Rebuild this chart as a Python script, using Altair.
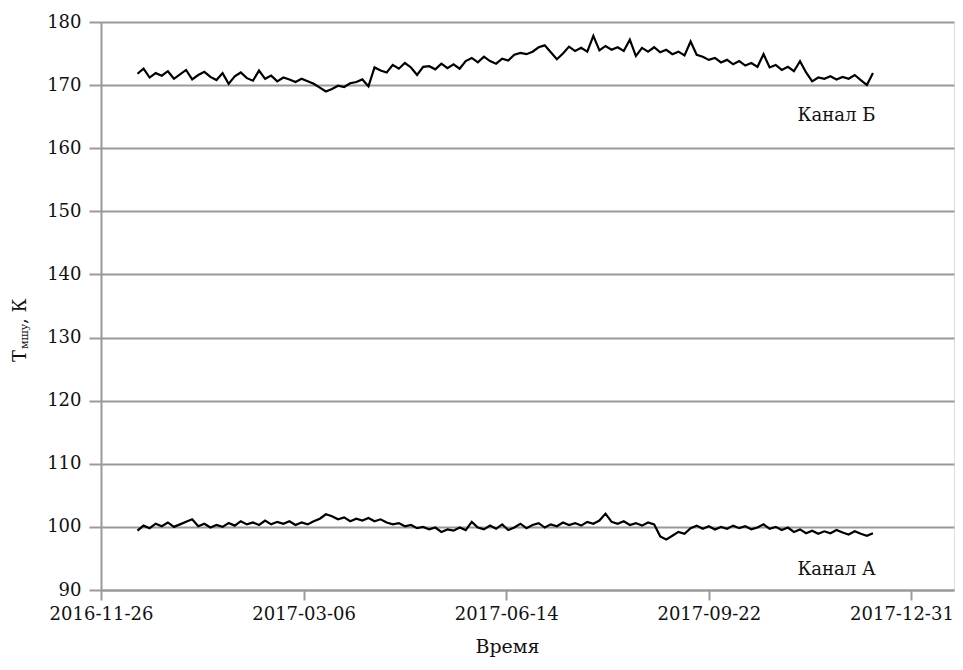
import altair as alt
import pandas as pd

# ---- data ----
series_start = "2016-12-14"
step_days = 3

chan_b = [
    171.8, 172.6, 171.2, 171.9, 171.5, 172.2, 171.0, 171.7, 172.4, 170.9,
    171.6, 172.1, 171.3, 170.8, 171.9, 170.2, 171.4, 172.0, 171.1, 170.7,
    172.3, 171.0, 171.5, 170.6, 171.2, 170.9, 170.5, 171.0, 170.6, 170.2,
    169.6, 169.0, 169.4, 169.9, 169.7, 170.3, 170.5, 170.9, 169.8, 172.8,
    172.3, 172.0, 173.2, 172.6, 173.5, 172.8, 171.6, 172.9, 173.0, 172.5,
    173.4, 172.7, 173.3, 172.6, 173.8, 174.3, 173.6, 174.5, 173.8, 173.4,
    174.2, 173.9, 174.8, 175.1, 174.9, 175.3, 176.0, 176.3, 175.2, 174.1,
    175.0, 176.1, 175.4, 175.9, 175.3, 177.8, 175.5, 176.2, 175.6, 176.0,
    175.4, 177.2, 174.6, 175.9, 175.3, 176.0, 175.2, 175.6, 174.9, 175.3,
    174.7, 176.9, 174.8, 174.5, 174.0, 174.3, 173.6, 174.0, 173.3, 173.8,
    173.1, 173.5, 172.9, 174.9, 172.8, 173.2, 172.4, 172.9, 172.2, 173.8,
    172.0, 170.6, 171.2, 171.0, 171.4, 170.9, 171.3, 171.0, 171.6, 170.8,
    170.0, 171.9,
]

chan_a = [
    99.4, 100.2, 99.8, 100.5, 100.1, 100.7, 100.0, 100.4, 100.8, 101.2,
    100.1, 100.5, 99.9, 100.3, 100.0, 100.6, 100.2, 100.9, 100.4, 100.7,
    100.3, 101.0, 100.4, 100.8, 100.5, 100.9, 100.3, 100.7, 100.4, 100.9,
    101.3, 102.0, 101.7, 101.2, 101.5, 100.9, 101.3, 101.0, 101.4, 100.9,
    101.2, 100.7, 100.4, 100.6, 100.1, 100.3, 99.8, 100.0, 99.6, 99.9,
    99.2, 99.6, 99.4, 99.9, 99.5, 100.8, 99.9, 99.6, 100.2, 99.7,
    100.4, 99.5, 99.9, 100.5, 99.8, 100.3, 100.6, 99.9, 100.4, 100.1,
    100.7, 100.3, 100.6, 100.2, 100.8, 100.5, 101.0, 102.1, 100.8, 100.5,
    100.9, 100.3, 100.6, 100.2, 100.7, 100.4, 98.5, 98.0, 98.6, 99.2,
    98.9, 99.8, 100.2, 99.7, 100.1, 99.6, 100.0, 99.7, 100.2, 99.8,
    100.1, 99.6, 99.9, 100.4, 99.7, 100.0, 99.5, 99.9, 99.2, 99.6,
    99.0, 99.4, 98.9, 99.3, 99.0, 99.5, 99.1, 98.8, 99.3, 98.9,
    98.6, 99.0,
]

channel_names = ["Канал Б", "Канал А"]
label_dates = ["2017-11-24", "2017-11-24"]
label_values = [165.1, 93.2]

x_tick_dates = ["2016-11-26", "2017-03-06", "2017-06-14", "2017-09-22", "2017-12-31"]
x_domain = ["2016-11-26", "2018-01-21"]
y_ticks = [90, 100, 110, 120, 130, 140, 150, 160, 170, 180]
y_domain = [90, 180]

# ---- build tables ----
n = len(chan_b)
dates = list(pd.date_range(series_start, periods=n, freq=f"{step_days}D").strftime("%Y-%m-%d"))
df = pd.DataFrame({
    "date": dates + dates,
    "value": chan_b + chan_a,
    "channel": [channel_names[0]] * n + [channel_names[1]] * n,
})
labels = pd.DataFrame({"date": label_dates, "value": label_values, "text": channel_names})


def dt(s):
    y, m, d = (int(p) for p in s.split("-"))
    return alt.DateTime(year=y, month=m, date=d, utc=True)


FONT = "DejaVu Serif"
GRAY = "#9a9a9a"

x_enc = alt.X(
    "date:T",
    scale=alt.Scale(type="utc", domain=[dt(s) for s in x_domain]),
    axis=alt.Axis(
        values=[dt(s) for s in x_tick_dates],
        labelExpr="utcFormat(datum.value, '%Y-%m-%d')",
        title="Время",
        grid=False,
        domainColor=GRAY,
        domainWidth=2,
        tickColor=GRAY,
        tickWidth=2,
        tickSize=10,
        labelPadding=5,
        labelFontSize=18,
        labelColor="#111",
        labelFont=FONT,
        labelOffset={"condition": {"test": "datum.index == 1", "value": -10}, "value": 0},
        titleFont=FONT,
        titleFontSize=19,
        titleFontWeight="normal",
        titleColor="#111",
        titlePadding=14,
        titleX=406,
        labelFlush=False,
    ),
)
y_enc = alt.Y(
    "value:Q",
    scale=alt.Scale(domain=y_domain, nice=False, zero=False),
    axis=alt.Axis(
        values=y_ticks,
        title="",
        grid=True,
        gridColor=GRAY,
        gridWidth=2,
        domainColor=GRAY,
        domainWidth=2,
        tickColor=GRAY,
        tickWidth=2,
        tickSize=12,
        labelPadding=8,
        labelFontSize=18,
        labelColor="#111",
        labelFont=FONT,
    ),
)

lines = alt.Chart(df).mark_line(color="black", strokeWidth=2.2, strokeJoin="miter").encode(
    x=x_enc, y=y_enc, detail="channel:N"
)

chan_labels = alt.Chart(labels).mark_text(font=FONT, fontSize=18, color="#111", align="center", baseline="middle").encode(
    x="date:T", y="value:Q", text="text:N"
)

t_main = alt.Chart(pd.DataFrame({"t": ["Т"]})).mark_text(
    font=FONT, fontSize=18, color="#111", angle=270, align="left", baseline="middle"
).encode(x=alt.value(-80), y=alt.value(340), text="t:N")
t_sub = alt.Chart(pd.DataFrame({"t": ["мшу"]})).mark_text(
    font=FONT, fontSize=11, color="#111", angle=270, align="left", baseline="middle"
).encode(x=alt.value(-76), y=alt.value(327), text="t:N")
t_unit = alt.Chart(pd.DataFrame({"t": [", К"]})).mark_text(
    font=FONT, fontSize=18, color="#111", angle=270, align="left", baseline="middle"
).encode(x=alt.value(-80), y=alt.value(302), text="t:N")

chart = alt.layer(lines, chan_labels, t_main, t_sub, t_unit).properties(
    width=853,
    height=568,
    autosize=alt.AutoSizeParams(type="none"),
    padding={"left": 93, "top": 14, "right": 1, "bottom": 72},
).configure_view(stroke=None).configure(font=FONT)

chart.save("out.html", embed_options={"renderer": "svg", "actions": False})
